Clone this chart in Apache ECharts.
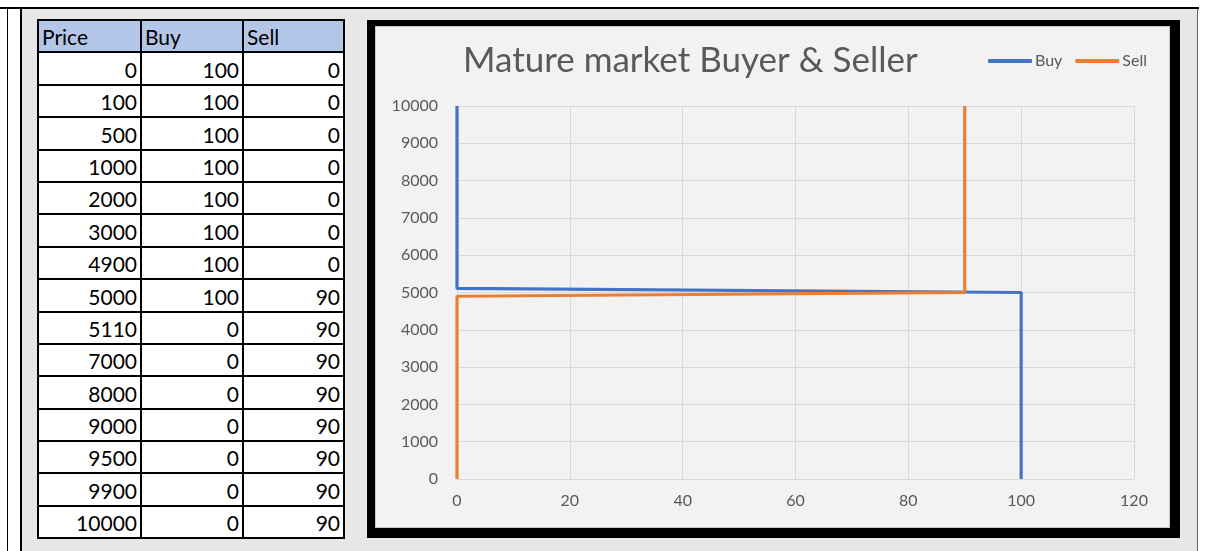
<!DOCTYPE html>
<html>
<head>
<meta charset="utf-8">
<script src="https://cdn.jsdelivr.net/npm/echarts@6/dist/echarts.min.js"></script>
<style>
  html, body { margin: 0; padding: 0; background: #fff; width: 1209px; height: 551px; overflow: hidden; }
  .abs { position: absolute; }
  #sheet { left: 37px; top: 19px; border-collapse: collapse; table-layout: fixed; font-family: Lato, "Noto Sans", sans-serif; font-size: 21px; color: #000; }
  #sheet td, #sheet th { border: 2px solid #000; padding: 0 3px 1px 3px; height: 29.4px; line-height: 26px; overflow: hidden; white-space: nowrap; background: #fff; }
  #sheet th { background: #b4c6e7; text-align: left; font-weight: normal; padding-left: 3px; vertical-align: bottom; }
  #sheet td { text-align: right; vertical-align: bottom; }
</style>
</head>
<body>
<div class="abs" style="left:0;top:7px;width:1199px;height:2px;background:#000;"></div>
<div class="abs" style="left:7px;top:7px;width:1px;height:544px;background:#000;"></div>
<div class="abs" style="left:22px;top:9px;width:1175px;height:542px;background:#e7e7e7;"></div>
<div class="abs" style="left:20px;top:9px;width:2px;height:542px;background:#000;"></div>
<div class="abs" style="left:1197px;top:9px;width:1px;height:542px;background:#666;"></div>

<table id="sheet" class="abs"></table>

<div class="abs" style="left:367px;top:20px;width:813px;height:518px;background:#000;"></div>
<div class="abs" style="left:375px;top:26px;width:795px;height:502px;background:#f2f2f2;box-shadow: inset 0 0 0 1px #c8c8c8;"></div>
<div id="chart" class="abs" style="left:375px;top:26px;width:795px;height:502px;"></div>

<script>
// ---- data ----
const headers = ['Price', 'Buy', 'Sell'];
const prices = [0, 100, 500, 1000, 2000, 3000, 4900, 5000, 5110, 7000, 8000, 9000, 9500, 9900, 10000];
const buy    = [100, 100, 100, 100, 100, 100, 100, 100, 0, 0, 0, 0, 0, 0, 0];
const sell   = [0, 0, 0, 0, 0, 0, 0, 90, 90, 90, 90, 90, 90, 90, 90];
const chartTitle = 'Mature market Buyer & Seller';
const xTicks = { min: 0, max: 120, interval: 20 };
const yTicks = { min: 0, max: 10000, interval: 1000 };

// ---- table ----
const colWidths = [103, 102, 101];
const table = document.getElementById('sheet');
let html = '<colgroup>' + colWidths.map(w => '<col style="width:' + w + 'px">').join('') + '</colgroup>';
html += '<tr>' + headers.map(h => '<th>' + h + '</th>').join('') + '</tr>';
for (let i = 0; i < prices.length; i++) {
  html += '<tr><td>' + prices[i] + '</td><td>' + buy[i] + '</td><td>' + sell[i] + '</td></tr>';
}
table.innerHTML = html;

// ---- chart ----
const chart = echarts.init(document.getElementById('chart'), null, { renderer: 'canvas' });
const txt = '#595959';
const font = 'Lato, "Noto Sans", sans-serif';
chart.setOption({
  backgroundColor: 'transparent',
  animation: false,
  title: {
    text: chartTitle,
    left: 83, top: 12,
    textStyle: { color: txt, fontSize: 35, fontWeight: 'normal', fontFamily: font }
  },
  legend: {
    left: 608, top: 22,
    itemWidth: 44, itemHeight: 4, itemGap: 13,
    icon: 'roundRect',
    textStyle: { color: txt, fontSize: 16, fontFamily: font, padding: [0, 0, 0, -2] },
    data: ['Buy', 'Sell']
  },
  grid: { left: 82, right: 36, top: 80, bottom: 49, containLabel: false },
  xAxis: {
    type: 'value', min: xTicks.min, max: xTicks.max, interval: xTicks.interval,
    axisLine: { show: true, lineStyle: { color: '#d9d9d9', width: 1 } },
    axisTick: { show: false },
    splitLine: { show: true, lineStyle: { color: '#d9d9d9', width: 1 } },
    axisLabel: { color: txt, fontSize: 16, fontFamily: font, margin: 14, formatter: v => String(v) }
  },
  yAxis: {
    type: 'value', min: yTicks.min, max: yTicks.max, interval: yTicks.interval,
    axisLine: { show: false },
    axisTick: { show: false },
    splitLine: { show: true, lineStyle: { color: '#d9d9d9', width: 1 } },
    axisLabel: { color: txt, fontSize: 16, fontFamily: font, margin: 19, formatter: v => String(v) }
  },
  series: [
    {
      name: 'Buy', type: 'line', showSymbol: false, symbol: 'none',
      color: '#4472c4',
      lineStyle: { width: 3.2, color: '#4472c4' },
      data: prices.map((p, i) => [buy[i], p])
    },
    {
      name: 'Sell', type: 'line', showSymbol: false, symbol: 'none',
      color: '#ed7d31',
      lineStyle: { width: 3.2, color: '#ed7d31' },
      data: prices.map((p, i) => [sell[i], p])
    }
  ]
});
</script>
</body>
</html>
